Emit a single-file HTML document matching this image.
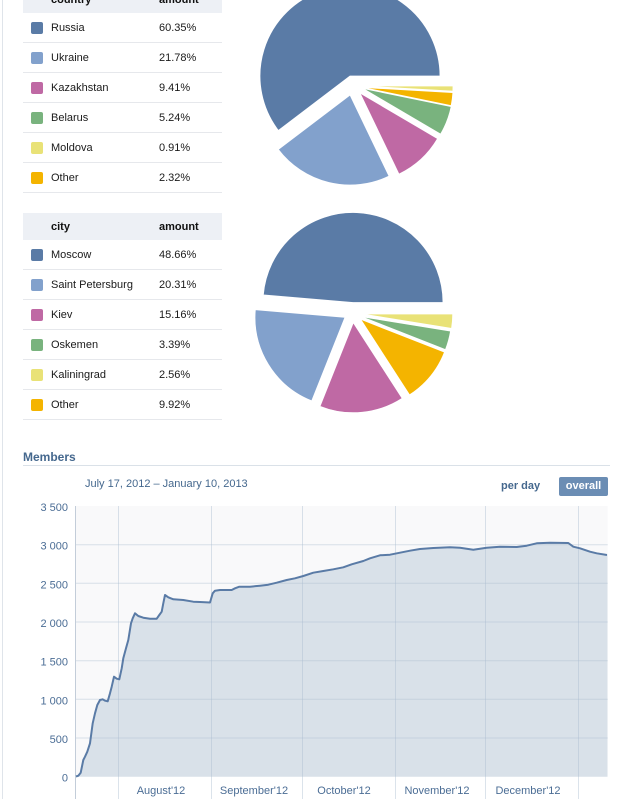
<!DOCTYPE html>
<html><head><meta charset="utf-8">
<style>
html,body{margin:0;padding:0;background:#fff;}
body{width:630px;height:799px;overflow:hidden;position:relative;font-family:"Liberation Sans",Arial,sans-serif;font-size:11px;color:#1a1a1a;}
.abs{position:absolute;}
.hdr{position:absolute;left:23px;width:199px;height:27px;background:#edf0f5;}
.ht{position:absolute;font-weight:bold;line-height:14px;color:#111;}
.row{position:absolute;left:23px;width:199px;height:29px;border-bottom:1px solid #e6e8ec;}
.sw{position:absolute;left:8px;top:9px;width:12px;height:12px;border-radius:2px;}
.nm{position:absolute;left:28px;top:8px;line-height:14px;}
.am{position:absolute;left:136px;top:8px;line-height:14px;}
</style></head><body>
<div class="abs" style="left:2px;top:0;width:1px;height:799px;background:#dfe4ea;"></div>

<!-- Table 1 -->
<div class="hdr" style="top:-14px;"></div>
<div class="ht" style="left:51px;top:-7px;">country</div>
<div class="ht" style="left:159px;top:-7px;">amount</div>
<div class="row" style="top:13px;"><div class="sw" style="background:#5a7ba6"></div><div class="nm">Russia</div><div class="am">60.35%</div></div>
<div class="row" style="top:43px;"><div class="sw" style="background:#82a1cc"></div><div class="nm">Ukraine</div><div class="am">21.78%</div></div>
<div class="row" style="top:73px;"><div class="sw" style="background:#bf69a4"></div><div class="nm">Kazakhstan</div><div class="am">9.41%</div></div>
<div class="row" style="top:103px;"><div class="sw" style="background:#79b37e"></div><div class="nm">Belarus</div><div class="am">5.24%</div></div>
<div class="row" style="top:133px;"><div class="sw" style="background:#e9e277"></div><div class="nm">Moldova</div><div class="am">0.91%</div></div>
<div class="row" style="top:163px;"><div class="sw" style="background:#f4b400"></div><div class="nm">Other</div><div class="am">2.32%</div></div>

<!-- Table 2 -->
<div class="hdr" style="top:213px;"></div>
<div class="ht" style="left:51px;top:220px;">city</div>
<div class="ht" style="left:159px;top:220px;">amount</div>
<div class="row" style="top:240px;"><div class="sw" style="background:#5a7ba6"></div><div class="nm">Moscow</div><div class="am">48.66%</div></div>
<div class="row" style="top:270px;"><div class="sw" style="background:#82a1cc"></div><div class="nm">Saint Petersburg</div><div class="am">20.31%</div></div>
<div class="row" style="top:300px;"><div class="sw" style="background:#bf69a4"></div><div class="nm">Kiev</div><div class="am">15.16%</div></div>
<div class="row" style="top:330px;"><div class="sw" style="background:#79b37e"></div><div class="nm">Oskemen</div><div class="am">3.39%</div></div>
<div class="row" style="top:360px;"><div class="sw" style="background:#e9e277"></div><div class="nm">Kaliningrad</div><div class="am">2.56%</div></div>
<div class="row" style="top:390px;"><div class="sw" style="background:#f4b400"></div><div class="nm">Other</div><div class="am">9.92%</div></div>

<!-- Pies -->
<svg class="abs" style="left:0;top:0;" width="630" height="430" viewBox="0 0 630 430">
<g stroke="#fff" stroke-width="0.8">
<path fill="#5a7ba6" d="M350,76 L440,76 A90,90 0 1 0 278.36,130.48 Z"/>
<path fill="#82a1cc" d="M350,95 L278.36,149.48 A90,90 0 0 0 388.99,176.12 Z"/>
<path fill="#bf69a4" d="M360,93 L398.99,174.12 A90,90 0 0 0 437.58,138.62 Z"/>
<path fill="#79b37e" d="M363,88.5 L440.58,134.12 A90,90 0 0 0 451.16,106.58 Z"/>
<path fill="#f4b400" d="M363,87.5 L451.16,105.58 A90,90 0 0 0 452.86,92.59 Z"/>
<path fill="#e9e277" d="M363,86 L452.86,91.09 A90,90 0 0 0 453,86 Z"/>

<path fill="#5a7ba6" d="M353,302.5 L443,302.5 A90,90 0 0 0 263.32,294.94 Z"/>
<path fill="#82a1cc" d="M345,317.3 L255.32,309.74 A90,90 0 0 0 311.7,400.91 Z"/>
<path fill="#bf69a4" d="M353.3,322.7 L320,406.31 A90,90 0 0 0 402.14,398.29 Z"/>
<path fill="#f4b400" d="M360.7,319.3 L409.54,394.89 A90,90 0 0 0 444.48,352.17 Z"/>
<path fill="#79b37e" d="M361.7,316.7 L445.48,349.57 A90,90 0 0 0 450.54,331.12 Z"/>
<path fill="#e9e277" d="M362.7,314 L451.54,328.42 A90,90 0 0 0 452.7,314 Z"/>
</g>
</svg>

<!-- Members header -->
<div class="abs" style="left:23px;top:450px;font-size:12px;font-weight:bold;color:#45688e;line-height:15px;">Members</div>
<div class="abs" style="left:23px;top:465px;width:587px;height:1px;background:#dae1e8;"></div>
<div class="abs" style="left:85px;top:477px;color:#45688e;line-height:14px;">July 17, 2012 – January 10, 2013</div>
<div class="abs" style="left:501px;top:479px;color:#45688e;font-weight:bold;line-height:14px;">per day</div>
<div class="abs" style="left:559px;top:477px;width:49px;height:19px;background:#6b8db4;border-radius:2px;color:#fff;font-weight:bold;line-height:19px;text-align:center;">overall</div>

<!-- Chart -->
<svg class="abs" style="left:0;top:500px;" width="630" height="299" viewBox="0 500 630 299">
<rect x="75" y="506" width="532.7" height="270.7" fill="#f9f9fa"/>
<path fill="#d9e1e9" d="M76,776.5 L78.3,775.7 L80.7,772.7 L83.3,760 L85,756.7 L87.3,751.7 L90,743.3 L92.7,723.3 L95,713.3 L97.3,705 L100,700 L102.7,699.3 L105,700.7 L107.7,701.3 L110,693.3 L111.7,686.7 L114,676.7 L116.7,678.7 L119.3,679.3 L121.7,668.3 L123.3,658.3 L126,648.3 L128.3,640 L131,623.3 L132.7,618.3 L135,613.3 L138.3,616 L143.3,617.7 L150,618.7 L156.7,618.7 L159.3,615 L161.7,611.7 L163.3,603.3 L165,595 L168.3,597.3 L173.3,599.3 L183.3,600 L193.3,601.7 L200,602 L210,602.5 L212.7,593.3 L215,590.7 L220,590 L231.7,590 L235,588.3 L239.3,586.7 L250,586.7 L260,585.7 L268.3,584.7 L276.7,582.7 L286.7,580 L295,578.3 L303.3,576 L313.3,572.7 L323.3,571 L333.3,569.3 L343.3,567.3 L351.7,564.3 L363.3,561 L370,558.3 L380,555.3 L390,554.7 L400,552.7 L410,550.7 L420,549 L433.3,548 L450,547.3 L460,547.7 L473.3,549.7 L486.7,547.7 L500,546.7 L516.7,547 L526.7,545.7 L536.7,543.3 L550,542.7 L568.3,543 L573.3,546.7 L580,548.3 L590,551.7 L596.7,553.3 L607.5,555 L607.5,776.7 L75,776.7 Z"/>
<g stroke="rgba(170,188,208,0.42)" stroke-width="1" fill="none">
<line x1="75" y1="544.7" x2="607.7" y2="544.7"/>
<line x1="75" y1="583.3" x2="607.7" y2="583.3"/>
<line x1="75" y1="622" x2="607.7" y2="622"/>
<line x1="75" y1="660.7" x2="607.7" y2="660.7"/>
<line x1="75" y1="699.3" x2="607.7" y2="699.3"/>
<line x1="75" y1="738" x2="607.7" y2="738"/>
<line x1="118.5" y1="506" x2="118.5" y2="799"/>
<line x1="211.5" y1="506" x2="211.5" y2="799"/>
<line x1="302.5" y1="506" x2="302.5" y2="799"/>
<line x1="395.5" y1="506" x2="395.5" y2="799"/>
<line x1="485.5" y1="506" x2="485.5" y2="799"/>
<line x1="578.5" y1="506" x2="578.5" y2="799"/>
</g>
<line x1="75.5" y1="506" x2="75.5" y2="799" stroke="#c3cdd9" stroke-width="1"/>
<polyline fill="none" stroke="#5a7ba6" stroke-width="2" stroke-linejoin="round" points="76,776.5 78.3,775.7 80.7,772.7 83.3,760 85,756.7 87.3,751.7 90,743.3 92.7,723.3 95,713.3 97.3,705 100,700 102.7,699.3 105,700.7 107.7,701.3 110,693.3 111.7,686.7 114,676.7 116.7,678.7 119.3,679.3 121.7,668.3 123.3,658.3 126,648.3 128.3,640 131,623.3 132.7,618.3 135,613.3 138.3,616 143.3,617.7 150,618.7 156.7,618.7 159.3,615 161.7,611.7 163.3,603.3 165,595 168.3,597.3 173.3,599.3 183.3,600 193.3,601.7 200,602 210,602.5 212.7,593.3 215,590.7 220,590 231.7,590 235,588.3 239.3,586.7 250,586.7 260,585.7 268.3,584.7 276.7,582.7 286.7,580 295,578.3 303.3,576 313.3,572.7 323.3,571 333.3,569.3 343.3,567.3 351.7,564.3 363.3,561 370,558.3 380,555.3 390,554.7 400,552.7 410,550.7 420,549 433.3,548 450,547.3 460,547.7 473.3,549.7 486.7,547.7 500,546.7 516.7,547 526.7,545.7 536.7,543.3 550,542.7 568.3,543 573.3,546.7 580,548.3 590,551.7 596.7,553.3 607,555"/>
<g font-family="Liberation Sans, Arial, sans-serif" font-size="11" fill="#4b6d95" text-anchor="end">
<text x="68" y="511">3 500</text>
<text x="68" y="549.7">3 000</text>
<text x="68" y="588.3">2 500</text>
<text x="68" y="627">2 000</text>
<text x="68" y="665.7">1 500</text>
<text x="68" y="704.3">1 000</text>
<text x="68" y="743">500</text>
<text x="68" y="781.7">0</text>
</g>
<g font-family="Liberation Sans, Arial, sans-serif" font-size="11" fill="#4b6d95" text-anchor="middle">
<text x="161" y="794">August'12</text>
<text x="254" y="794">September'12</text>
<text x="344" y="794">October'12</text>
<text x="437" y="794">November'12</text>
<text x="528" y="794">December'12</text>
</g>
</svg>
</body></html>
